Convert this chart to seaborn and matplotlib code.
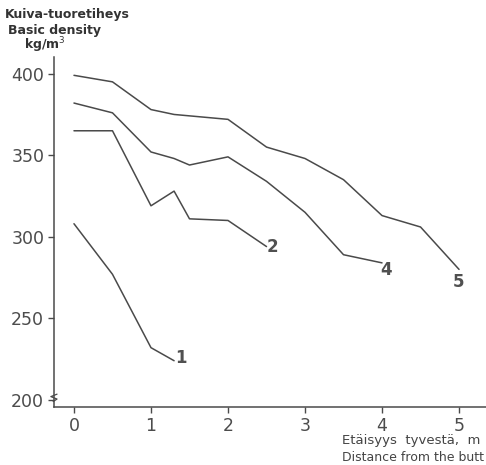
import pandas as pd
import matplotlib
matplotlib.use('Agg')
import matplotlib.pyplot as plt
import seaborn as sns

# Kuiva-tuoretiheys eri etäisyyksillä tyvestä (luettu kuvasta)
x1 = [0, 0.5, 1, 1.3]
y1 = [308, 277, 232, 224]
x2 = [0, 0.5, 1, 1.3, 1.5, 2, 2.5]
y2 = [365, 365, 319, 328, 311, 310, 294]
x4 = [0, 0.5, 1, 1.3, 1.5, 2, 2.5, 3, 3.5, 4]
y4 = [382, 376, 352, 348, 344, 349, 334, 315, 289, 284]
x5 = [0, 0.5, 1, 1.3, 2, 2.5, 3, 3.5, 4, 4.5, 5]
y5 = [399, 395, 378, 375, 372, 355, 348, 335, 313, 306, 280]
line_names = ['1', '2', '4', '5']
x_ticks = [0, 1, 2, 3, 4, 5]
y_ticks = [200, 250, 300, 350, 400]

df = pd.concat([
    pd.DataFrame({'x': x, 'y': y, 'line': n})
    for x, y, n in zip([x1, x2, x4, x5], [y1, y2, y4, y5], line_names)
])

sns.set_style('white')
plt.rcParams['font.family'] = ['DejaVu Sans']
grey = '#4a4a4a'

fig = plt.figure(figsize=(4.86, 4.65), dpi=100)
ax = fig.add_axes([0.111, 0.125, 0.889, 0.753])
sns.lineplot(data=df, x='x', y='y', hue='line', palette=[grey] * 4,
             estimator=None, sort=False, legend=False, linewidth=1.1, ax=ax)

# käyrien numerot
offsets = {'1': (1, 2), '2': (0, 0), '4': (-1, -5), '5': (-4.5, -9)}
for n, grp in df.groupby('line'):
    last = grp.iloc[-1]
    ax.annotate(n, (last['x'], last['y']), xytext=offsets[n], textcoords='offset points',
                fontsize=12, color='#505050', fontweight='bold', ha='left', va='center')

ax.set_xlim(-0.26, 5.35)
ax.set_ylim(195.7, 410.4)
ax.set_xticks(x_ticks)
ax.set_yticks(y_ticks)
ax.tick_params(axis='both', direction='out', length=4, width=1, color=grey,
               labelsize=12.5, labelcolor='#4c4c4c', pad=3, left=True, bottom=True)
for s in ['top', 'right']:
    ax.spines[s].set_visible(False)
for s in ['left', 'bottom']:
    ax.spines[s].set_color(grey)
    ax.spines[s].set_linewidth(1.1)
ax.set_xlabel('')
ax.set_ylabel('')

# katkoviiva y-akselilla
ax.plot([-0.27, -0.22, -0.30, -0.22], [199, 200.5, 202, 203.5], color=grey, lw=0.9, clip_on=False)

fig.text(0.01, 0.962, 'Kuiva-tuoretiheys', fontsize=9, fontweight='bold', color='#333333')
fig.text(0.016, 0.927, 'Basic density', fontsize=9, fontweight='bold', color='#333333')
fig.text(0.05, 0.893, 'kg/m$^3$', fontsize=9, fontweight='bold', color='#333333')
fig.text(0.703, 0.045, 'Etäisyys  tyvestä,  m', fontsize=9.5, color='#444444')
fig.text(0.703, 0.008, 'Distance from the butt', fontsize=9, color='#444444')

fig.savefig('out.png', dpi=100)
